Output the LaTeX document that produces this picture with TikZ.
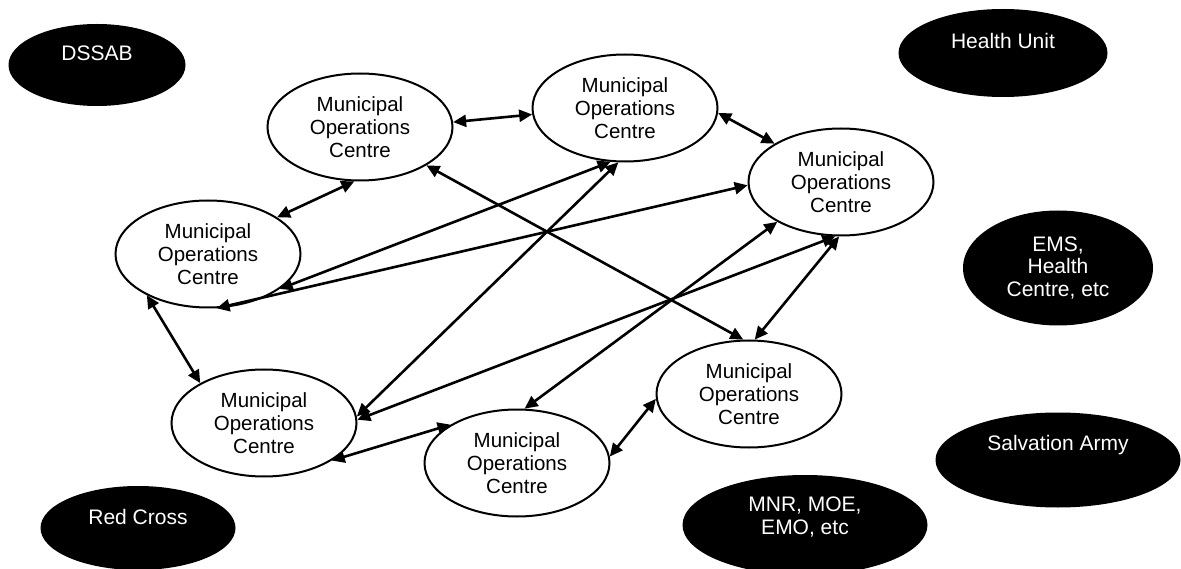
\documentclass[tikz,border=0pt]{standalone}
\usepackage{fontspec}
\setmainfont{Liberation Sans}
\usetikzlibrary{shapes.geometric,arrows.meta}
\tikzset{
  moc/.style={ellipse, draw=black, line width=2pt, fill=white, minimum width=185pt, minimum height=107pt, inner sep=0pt, align=center, font=\fontsize{20.5}{23}\selectfont},
  blk/.style={ellipse, fill=black, inner sep=0pt},
  blktxt/.style={text=white, align=center, font=\fontsize{21}{22.5}\selectfont, inner sep=0pt},
  link/.style={line width=2.6pt, {Triangle[length=13pt,width=12pt]}-{Triangle[length=13pt,width=12pt]}},
}
\begin{document}
\begin{tikzpicture}[x=1pt,y=-1pt]
\clip (0,0) rectangle (1181,569);
\fill[white] (0,0) rectangle (1181,569);
% black ellipses
\node[blk, minimum width=177pt, minimum height=82pt] (dssab) at (97,65) {};
\node[blktxt] (dssabT) at ([yshift=12pt]dssab.center) {DSSAB};
\node[blk, minimum width=209pt, minimum height=88pt] (hu) at (1003,53) {};
\node[blktxt] (huT) at ([yshift=12pt]hu.center) {Health Unit};
\node[blk, minimum width=190pt, minimum height=115pt] (ems) at (1058,268) {};
\node[blktxt] (emsT) at (ems.center) {EMS,\\Health\\Centre, etc};
\node[blk, minimum width=245pt, minimum height=95pt] (sa) at (1058,460) {};
\node[blktxt] (saT) at ([yshift=15pt]sa.center) {Salvation Army};
\node[blk, minimum width=245pt, minimum height=100pt] (mnr) at (805,525) {};
\node[blktxt] (mnrT) at ([yshift=8pt]mnr.center) {MNR, MOE,\\EMO, etc};
\node[blk, minimum width=195pt, minimum height=84pt] (rc) at (138,528) {};
\node[blktxt] (rcT) at ([yshift=11pt]rc.center) {Red Cross};
% municipal operations centres
\node[moc] (A) at (360,127) {Municipal\\Operations\\Centre};
\node[moc] (B) at (625,108) {Municipal\\Operations\\Centre};
\node[moc] (C) at (841,182) {Municipal\\Operations\\Centre};
\node[moc] (D) at (208,254) {Municipal\\Operations\\Centre};
\node[moc] (E) at (264,423) {Municipal\\Operations\\Centre};
\node[moc] (F) at (517,463) {Municipal\\Operations\\Centre};
\node[moc] (G) at (749,394) {Municipal\\Operations\\Centre};
% connectors
\draw[link] (A.3) -- (B.-176);
\draw[link] (B.-3) -- (C.150);
\draw[link] (A.-96) -- (D.28);
\draw[link] (D.-146) -- (E.148);
\draw[link] (E.-29) -- (F.150);
\draw[link] (F.4) -- (G.-177);
\draw[link] (C.-92) -- (G.84);
\draw[link] (A.-30) -- (G.96);
\draw[link] (B.-97) -- (E.4);
\draw[link] (D.-26) -- (B.-105);
\draw[link] (D.-81) -- (C.-178);
\draw[link] (E.2) -- (C.-96);
\draw[link] (F.82) -- (C.-148);
\end{tikzpicture}
\end{document}
